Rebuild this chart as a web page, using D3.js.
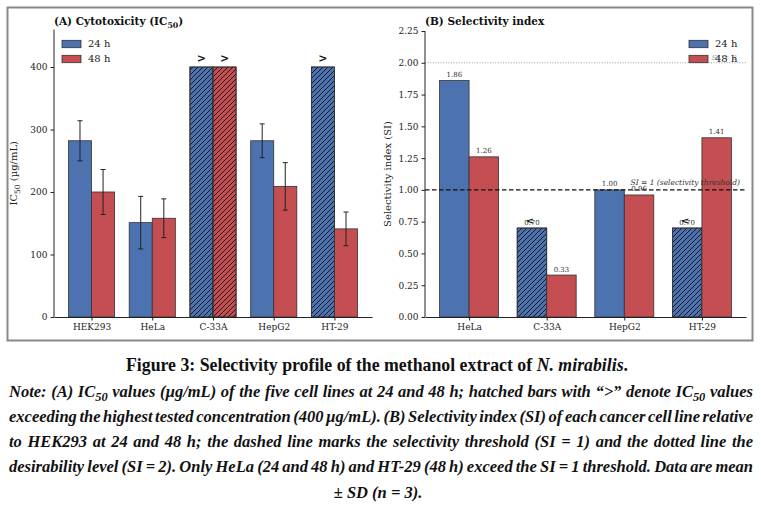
<!DOCTYPE html>
<html>
<head>
<meta charset="utf-8">
<script src="https://cdn.jsdelivr.net/npm/d3@7/dist/d3.min.js"></script>
<style>
	body{margin:0;background:#fff;}
	svg{display:block;}
</style>
</head>
<body>
<svg id="fig" width="761" height="509"></svg>
<script>
// panel A data
const cellLinesA = ['HEK293', 'HeLa', 'C-33A', 'HepG2', 'HT-29'];
const ic50h24 = [282, 151, 400, 282, 400];
const ic50h48 = [200, 158, 400, 209, 141];
const sdh24 = [32, 42, null, 27, null];
const sdh48 = [36, 31, null, 38, 27];
const aboveh24 = [false, false, true, false, true];
const aboveh48 = [false, false, true, false, false];
const ticksA = [0, 100, 200, 300, 400];

// panel B data
const cellLinesB = ['HeLa', 'C-33A', 'HepG2', 'HT-29'];
const sih24 = [1.86, 0.70, 1.00, 0.70];
const sih48 = [1.26, 0.33, 0.96, 1.41];
const belowh24 = [false, true, false, true];
const belowh48 = [false, false, false, false];
const ticksB = [0, 0.25, 0.5, 0.75, 1.0, 1.25, 1.5, 1.75, 2.0, 2.25];

const seriesNames = ['24 h', '48 h'];

const FONT = 'DejaVu Serif';
const BLUE = '#4c72b0';
const RED = '#c44e52';
const EDGE = '#333';
const barW = 0.38;

let svg = d3.select('#fig');
svg.append('rect').attr('width', 761).attr('height', 509).attr('fill', '#fff');

let defs = svg.append('defs');
let pat = defs.append('pattern')
	.attr('id', 'hatch')
	.attr('patternUnits', 'userSpaceOnUse')
	.attr('width', 5).attr('height', 5);
pat.append('path')
	.attr('d', 'M0,5 L5,0 M-1,1 L1,-1 M4,6 L6,4')
	.attr('stroke', '#111').attr('stroke-width', 0.9);

// outer frame round both panels
svg.append('rect')
	.attr('x', 7.5).attr('y', 7.5)
	.attr('width', 745).attr('height', 333)
	.attr('fill', 'none')
	.attr('stroke', '#888').attr('stroke-width', 2);

function drawBars(g, x, y, vals, flags, off, color){
	let bw = x(barW) - x(0);
	let bars = g.append('g');
	vals.forEach((v, i)=>{
		let x0 = x(i + off) - bw/2;
		bars.append('rect')
			.attr('x', x0).attr('y', y(v))
			.attr('width', bw).attr('height', y(0) - y(v))
			.attr('fill', color)
			.attr('stroke', EDGE).attr('stroke-width', 0.8);
		if(flags[i]){
			bars.append('rect')
				.attr('x', x0).attr('y', y(v))
				.attr('width', bw).attr('height', y(0) - y(v))
				.attr('fill', 'url(#hatch)')
				.attr('stroke', EDGE).attr('stroke-width', 0.8);
		}
	});
}

function drawErr(g, x, y, vals, sds, off){
	vals.forEach((v, i)=>{
		if(sds[i] === null){
			return;
		}
		let cx = x(i + off);
		let y1 = y(v + sds[i]);
		let y2 = y(v - sds[i]);
		g.append('line').attr('x1', cx).attr('x2', cx).attr('y1', y1).attr('y2', y2)
			.attr('stroke', '#222').attr('stroke-width', 1);
		[y1, y2].forEach((yy)=>{
			g.append('line').attr('x1', cx - 2.5).attr('x2', cx + 2.5).attr('y1', yy).attr('y2', yy)
				.attr('stroke', '#222').attr('stroke-width', 1);
		});
	});
}

function drawAxes(g, x, y, names, ticks, fmt){
	let xa = g.append('g')
		.attr('transform', `translate(0,${y.range()[0]})`)
		.call(d3.axisBottom(x).tickValues(d3.range(names.length)).tickFormat((i)=>names[i])
			.tickSizeInner(3.5).tickSizeOuter(0).tickPadding(3));
	let ya = g.append('g')
		.attr('transform', `translate(${x.range()[0]},0)`)
		.call(d3.axisLeft(y).tickValues(ticks).tickFormat(fmt)
			.tickSizeInner(3.5).tickSizeOuter(0).tickPadding(3));
	[xa, ya].forEach((a)=>{
		a.selectAll('path,line').attr('stroke', '#222').attr('stroke-width', 1);
		a.selectAll('text').attr('font-family', FONT).attr('font-size', 9).attr('fill', '#222');
	});
	// axis domain line ends at the plot area top
	ya.select('.domain').attr('d', `M0,${y.range()[0]}V${y.range()[1]}`);
}

function drawLegend(g, x, y){
	[BLUE, RED].forEach((c, i)=>{
		g.append('rect')
			.attr('x', x).attr('y', y + i*15 - 3.7)
			.attr('width', 19).attr('height', 7.4)
			.attr('fill', c).attr('stroke', EDGE).attr('stroke-width', 0.8);
		g.append('text')
			.attr('x', x + 26).attr('y', y + i*15)
			.attr('dominant-baseline', 'middle')
			.attr('font-family', FONT).attr('font-size', 10).attr('fill', '#222')
			.text(seriesNames[i]);
	});
}

function drawTitle(g, x, y, parts){
	let t = g.append('text')
		.attr('x', x).attr('y', y)
		.attr('font-family', FONT).attr('font-size', 10.5).attr('font-weight', 'bold')
		.attr('fill', '#111');
	addParts(t, parts, 3);
}

function addParts(t, parts, shift){
	let prevSub = false;
	parts.forEach((p)=>{
		let ts = t.append('tspan').text(p.t);
		if(p.sub){
			ts.attr('dy', shift).attr('font-size', '75%');
			prevSub = true;
		}else if(prevSub){
			ts.attr('dy', -shift);
			prevSub = false;
		}
	});
	return t;
}

// ---------- panel A ----------
let gA = svg.append('g');
let xA = d3.scaleLinear().domain([-0.618, 4.618]).range([54, 372]);
let yA = d3.scaleLinear().domain([0, 460]).range([317, 29.5]);

drawBars(gA, xA, yA, ic50h24, aboveh24, -barW/2, BLUE);
drawBars(gA, xA, yA, ic50h48, aboveh48, barW/2, RED);
drawErr(gA, xA, yA, ic50h24, sdh24, -barW/2);
drawErr(gA, xA, yA, ic50h48, sdh48, barW/2);
drawAxes(gA, xA, yA, cellLinesA, ticksA, d3.format('d'));

[[ic50h24, aboveh24, -barW/2], [ic50h48, aboveh48, barW/2]].forEach(([vals, flags, off])=>{
	vals.forEach((v, i)=>{
		if(!flags[i]) return;
		gA.append('text')
			.attr('x', xA(i + off)).attr('y', yA(v) - 5)
			.attr('text-anchor', 'middle')
			.attr('font-family', FONT).attr('font-size', 11).attr('font-weight', 'bold')
			.attr('fill', '#111')
			.text('>');
	});
});

drawLegend(gA, 62, 44);
drawTitle(gA, 54, 25, [{t:'(A)  Cytotoxicity (IC'}, {t:'50', sub:true}, {t:')'}]);

let ylabA = gA.append('text')
	.attr('transform', `translate(17,${(317 + 29.5)/2}) rotate(-90)`)
	.attr('text-anchor', 'middle')
	.attr('font-family', FONT).attr('font-size', 10).attr('fill', '#222');
addParts(ylabA, [{t:'IC'}, {t:'50', sub:true}, {t:' (µg/mL)'}], 2.5);

// ---------- panel B ----------
let gB = svg.append('g');
let xB = d3.scaleLinear().domain([-0.568, 3.568]).range([425, 746]);
let yB = d3.scaleLinear().domain([0, 2.25]).range([317, 31]);

drawBars(gB, xB, yB, sih24, belowh24, -barW/2, BLUE);
drawBars(gB, xB, yB, sih48, belowh48, barW/2, RED);

// reference lines
gB.append('line')
	.attr('x1', xB.range()[0]).attr('x2', xB.range()[1])
	.attr('y1', yB(2)).attr('y2', yB(2))
	.attr('stroke', '#999').attr('stroke-width', 1).attr('stroke-dasharray', '1,1.6');
gB.append('text')
	.attr('x', 737).attr('y', yB(2) - 3)
	.attr('text-anchor', 'end')
	.attr('font-family', FONT).attr('font-size', 8).attr('font-style', 'italic')
	.attr('fill', '#aaa')
	.text('SI = 2');
gB.append('line')
	.attr('x1', xB.range()[0]).attr('x2', xB.range()[1])
	.attr('y1', yB(1)).attr('y2', yB(1))
	.attr('stroke', '#111').attr('stroke-width', 1.1).attr('stroke-dasharray', '4.5,2.5');
gB.append('text')
	.attr('x', 740).attr('y', yB(1) - 5)
	.attr('text-anchor', 'end')
	.attr('font-family', FONT).attr('font-size', 7.5).attr('font-style', 'italic')
	.attr('fill', '#333')
	.text('SI = 1 (selectivity threshold)');

[[sih24, belowh24, -barW/2], [sih48, belowh48, barW/2]].forEach(([vals, flags, off])=>{
	vals.forEach((v, i)=>{
		let cx = xB(i + off);
		gB.append('text')
			.attr('x', cx).attr('y', yB(v) - 3.5)
			.attr('text-anchor', 'middle')
			.attr('font-family', FONT).attr('font-size', 7).attr('fill', '#333')
			.text(d3.format('.2f')(v));
		if(flags[i]){
			gB.append('text')
				.attr('x', cx - 2).attr('y', yB(v) - 4.5)
				.attr('text-anchor', 'middle')
				.attr('font-family', FONT).attr('font-size', 10).attr('font-weight', 'bold')
				.attr('fill', '#111')
				.text('<');
		}
	});
});

drawAxes(gB, xB, yB, cellLinesB, ticksB, d3.format('.2f'));
drawLegend(gB, 689, 44);
drawTitle(gB, 425, 25, [{t:'(B)  Selectivity index'}]);

gB.append('text')
	.attr('transform', `translate(391,${(317 + 31)/2}) rotate(-90)`)
	.attr('text-anchor', 'middle')
	.attr('font-family', FONT).attr('font-size', 10).attr('fill', '#222')
	.text('Selectivity index (SI)');

// ---------- caption ----------
const CAP_FONT = '"Liberation Serif", "Times New Roman", serif';
let cap = svg.append('text')
	.attr('x', 377).attr('y', 371)
	.attr('text-anchor', 'middle')
	.attr('font-family', CAP_FONT).attr('font-size', 17.8).attr('font-weight', 'bold')
	.attr('fill', '#111');
cap.append('tspan').text('Figure 3: Selectivity profile of the methanol extract of ');
cap.append('tspan').attr('font-style', 'italic').text('N. mirabilis');
cap.append('tspan').text('.');

const noteLines = [
	[{t:'Note: (A) IC'}, {t:'50', sub:true}, {t:' values (µg/mL) of the five cell lines at 24 and 48 h; hatched bars with “>” denote IC'}, {t:'50', sub:true}, {t:' values'}],
	[{t:'exceeding the highest tested concentration (400 µg/mL). (B) Selectivity index (SI) of each cancer cell line relative'}],
	[{t:'to HEK293 at 24 and 48 h; the dashed line marks the selectivity threshold (SI = 1) and the dotted line the'}],
	[{t:'desirability level (SI = 2). Only HeLa (24 and 48 h) and HT-29 (48 h) exceed the SI = 1 threshold. Data are mean'}],
	[{t:'± SD (n = 3).'}]
];
const noteY = [397, 422, 447, 472, 498];

noteLines.forEach((parts, i)=>{
	let last = i === noteLines.length - 1;
	let t = svg.append('text')
		.attr('x', last ? 378 : 9).attr('y', noteY[i])
		.attr('text-anchor', last ? 'middle' : 'start')
		.attr('font-family', CAP_FONT).attr('font-size', 16.5)
		.attr('font-weight', 'bold').attr('font-style', 'italic')
		.attr('fill', '#111');
	addParts(t, parts, 3.5);
	if(!last){
		let node = t.node();
		let w = node.getComputedTextLength();
		let spaces = (node.textContent.match(/ /g) || []).length;
		t.attr('word-spacing', (744 - w) / spaces);
	}
});
</script>
</body>
</html>
